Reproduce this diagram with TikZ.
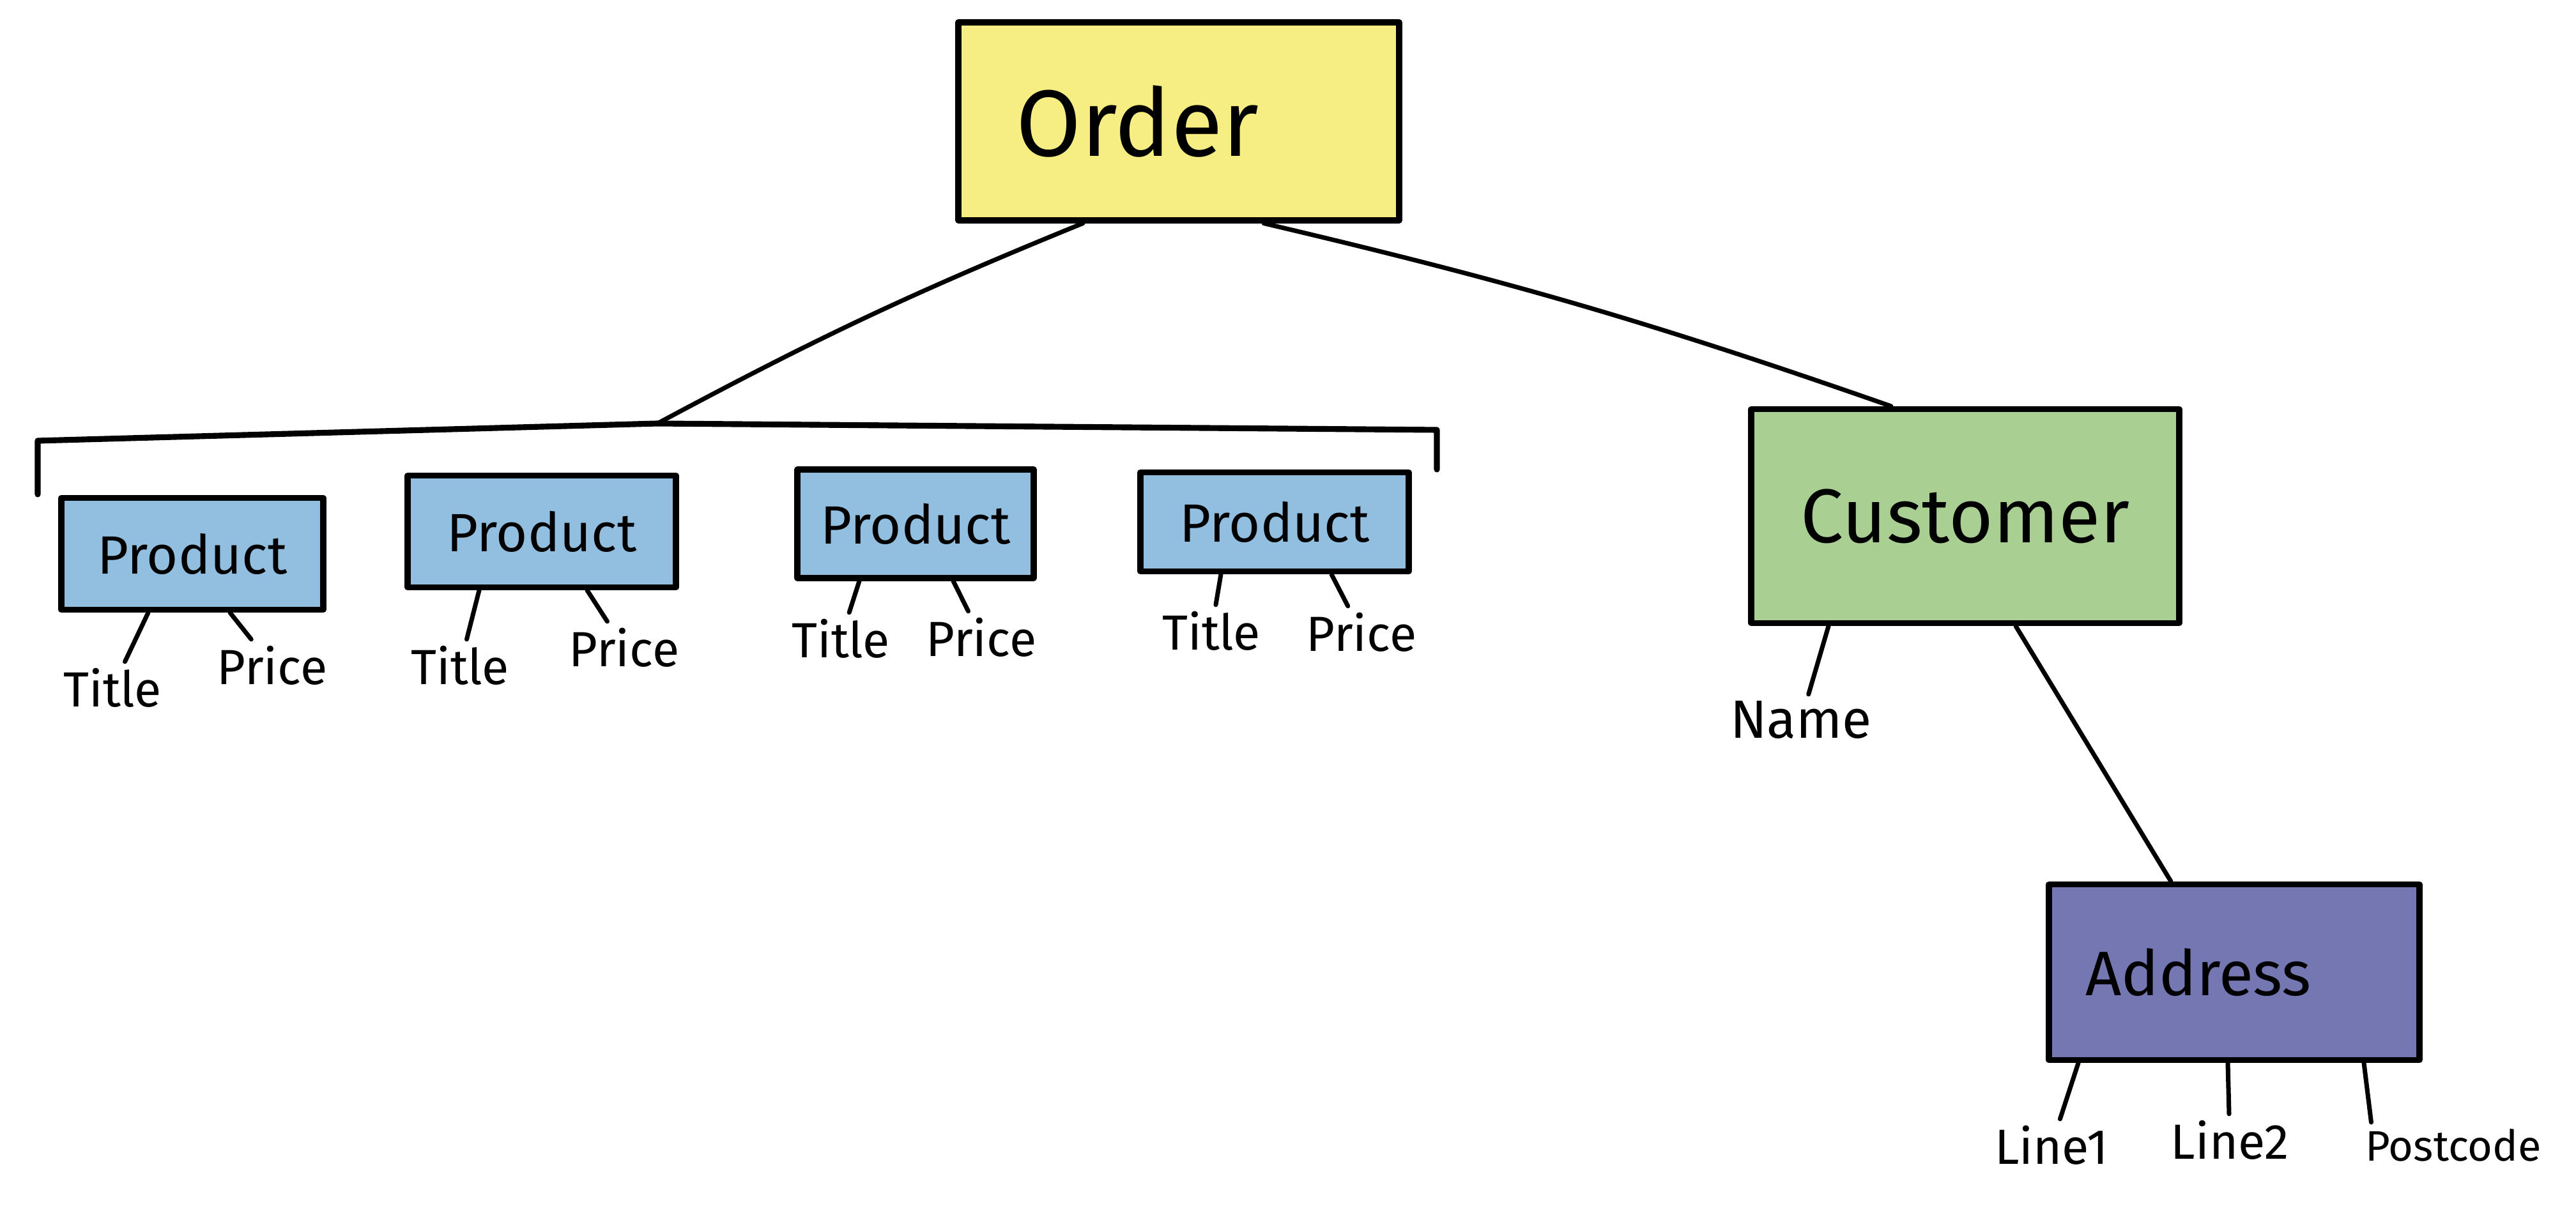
\documentclass[tikz,border=0pt]{standalone}
\usepackage{fontspec}
\setmainfont{Fira Sans}
\definecolor{orderyellow}{HTML}{F7EE83}
\definecolor{productblue}{HTML}{92BFE0}
\definecolor{customergreen}{HTML}{AACF92}
\definecolor{addresspurple}{HTML}{7577B3}
\begin{document}
\begin{tikzpicture}[line width=2pt, line cap=round, line join=round, entity/.style={rectangle,draw=black,line width=2.6pt,inner sep=0pt}, attr/.style={font=\fontsize{22}{26}\selectfont,inner sep=2pt}]%
\useasboundingbox (0,0) rectangle (40.32,18.88);
\begin{scope}[every node/.style={entity}]
\node[fill=orderyellow,minimum width=6.9cm,minimum height=3.1cm,inner xsep=0.9cm,text width=5.1cm,align=left,font=\fontsize{42}{46}\selectfont] (order) at (18.45,16.98) {Order};
\node[fill=productblue,minimum width=4.1cm,minimum height=1.75cm,font=\fontsize{24}{28}\selectfont] (p1) at (3.01,10.21) {Product};
\node[fill=productblue,minimum width=4.2cm,minimum height=1.75cm,font=\fontsize{24}{28}\selectfont] (p2) at (8.48,10.56) {Product};
\node[fill=productblue,minimum width=3.7cm,minimum height=1.7cm,font=\fontsize{24}{28}\selectfont] (p3) at (14.33,10.68) {Product};
\node[fill=productblue,minimum width=4.2cm,minimum height=1.55cm,font=\fontsize{24}{28}\selectfont] (p4) at (19.95,10.71) {Product};
\node[fill=customergreen,minimum width=6.7cm,minimum height=3.35cm,font=\fontsize{34}{38}\selectfont] (customer) at (30.76,10.80) {Customer};
\node[fill=addresspurple,minimum width=5.8cm,minimum height=2.75cm,inner xsep=0.57cm,text width=4.66cm,align=left,font=\fontsize{28}{32}\selectfont] (address) at (34.97,3.66) {Address};
\end{scope}
\begin{scope}[every node/.style={attr}]
\node (t1) at (1.76,8.11) {Title};
\node (r1) at (4.26,8.46) {Price};
\node (t2) at (7.20,8.46) {Title};
\node (r2) at (9.77,8.74) {Price};
\node (t3) at (13.16,8.88) {Title};
\node (r3) at (15.36,8.90) {Price};
\node (t4) at (18.96,9.00) {Title};
\node (r4) at (21.31,8.98) {Price};
\node[font=\fontsize{24}{28}\selectfont] (name) at (28.19,7.61) {Name};
\node (line1) at (32.11,0.95) {Line1};
\node (line2) at (34.90,1.03) {Line2};
\node[font=\fontsize{19}{23}\selectfont] (postcode) at (38.40,0.95) {Postcode};
\end{scope}
% bracket over the products
\coordinate (prodLB) at (0.59,11.14);
\coordinate (prodL) at (0.59,11.98);
\coordinate (prodTop) at (10.29,12.25);
\coordinate (prodR) at (22.49,12.15);
\coordinate (prodRB) at (22.49,11.53);
\draw[line width=2.6pt] (prodLB) -- (prodL) -- (prodTop) -- (prodR) -- (prodRB);
\draw ([xshift=-1.5cm]order.south) to[bend right=3] (prodTop);
\draw ([xshift=1.33cm]order.south) to[bend left=3] ([xshift=-1.16cm]customer.north);
\draw ([xshift=0.79cm]customer.south) -- ([xshift=-0.99cm]address.north);
\draw ([xshift=-2.14cm]customer.south) -- (name);
\draw ([xshift=-0.69cm]p1.south) -- (t1);
\draw ([xshift=0.59cm]p1.south) -- (r1);
\draw ([xshift=-0.98cm]p2.south) -- (t2);
\draw ([xshift=0.71cm]p2.south) -- (r2);
\draw ([xshift=-0.88cm]p3.south) -- (t3);
\draw ([xshift=0.59cm]p3.south) -- (r3);
\draw ([xshift=-0.84cm]p4.south) -- (t4);
\draw ([xshift=0.89cm]p4.south) -- (r4);
\draw ([xshift=-2.44cm]address.south) -- (line1);
\draw ([xshift=-0.10cm]address.south) -- (line2);
\draw ([xshift=2.03cm]address.south) -- ([xshift=0.2cm]postcode.north west);
\end{tikzpicture}
\end{document}
